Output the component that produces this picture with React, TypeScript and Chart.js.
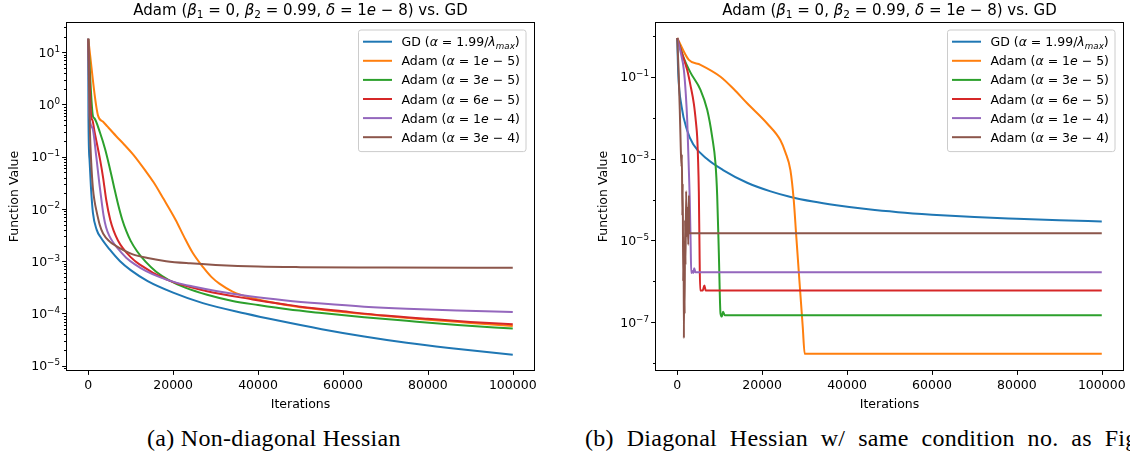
import React, { useEffect, useRef } from "react";
import { Chart, registerables } from "chart.js";
Chart.register(...registerables);

const FONT = '"DejaVu Sans"';
const COLORS = ["#1f77b4", "#ff7f0e", "#2ca02c", "#d62728", "#9467bd", "#8c564b"];
const gdRate = ["1.99/", "λ", "max"];
const adamRates = [["1", "5"], ["3", "5"], ["6", "5"], ["1", "4"], ["3", "4"]];
const xTickValues = [0, 20000, 40000, 60000, 80000, 100000];
const titleText = "Adam (β1 = 0, β2 = 0.99, δ = 1e − 8) vs. GD";
const captionA = "(a) Non-diagonal Hessian";
const captionB = "(b) Diagonal Hessian w/ same condition no. as Fig";

// ---------- Panel (a): non-diagonal Hessian ----------
const aGdX = [0, 50, 310, 630, 1100, 2000, 3000, 5000, 7500, 10000, 14000, 20000, 27000, 37000, 45000, 55000, 65000, 75000, 85000, 100000];
const aGdY = [18.1, 0.6, 0.087, 0.027, 8.5e-3, 3.98e-3, 2.82e-3, 1.7e-3, 1.0e-3, 6.76e-4, 4.17e-4, 2.51e-4, 1.58e-4, 1.0e-4, 7.24e-5, 5.01e-5, 3.63e-5, 2.75e-5, 2.19e-5, 1.62e-5];

const aAdam1X = [0, 2300, 3500, 4500, 6600, 8500, 10600, 13500, 15400, 17700, 20600, 22500, 24600, 27100, 29000, 30900, 34000, 38700, 46600, 50000, 60000, 70000, 80000, 90000, 100000];
const aAdam1Y = [18.1, 0.617, 0.468, 0.38, 0.247, 0.17, 0.11, 0.0537, 0.0324, 0.0158, 6.17e-3, 3.02e-3, 1.45e-3, 7.59e-4, 5.01e-4, 3.72e-4, 2.63e-4, 1.95e-4, 1.45e-4, 1.32e-4, 1.07e-4, 8.9e-5, 7.6e-5, 6.6e-5, 5.75e-5];

const aAdam2X = [0, 1100, 1400, 2820, 4000, 5000, 6000, 7000, 8000, 9000, 10000, 11500, 13500, 16000, 19000, 23000, 28000, 34000, 40000, 47000, 55000, 65000, 75000, 87000, 100000];
const aAdam2Y = [18.1, 0.6, 0.55, 0.282, 0.138, 0.0646, 0.0282, 0.0126, 6.3e-3, 3.72e-3, 2.45e-3, 1.55e-3, 9.8e-4, 6.3e-4, 4.37e-4, 3.09e-4, 2.29e-4, 1.74e-4, 1.45e-4, 1.2e-4, 1.02e-4, 8.5e-5, 7.24e-5, 6.03e-5, 5.13e-5];

const aAdam3X = [0, 700, 1000, 1500, 2800, 3500, 4235, 5180, 6000, 7000, 8150, 10000, 12070, 18350, 27750, 38730, 46570, 50000, 60000, 70000, 80000, 90000, 100000];
const aAdam3Y = [18.1, 0.6, 0.5, 0.3, 0.087, 0.04, 0.015, 6.2e-3, 3.8e-3, 2.5e-3, 1.78e-3, 1.2e-3, 8.7e-4, 4.5e-4, 2.7e-4, 1.86e-4, 1.48e-4, 1.35e-4, 1.1e-4, 9.1e-5, 7.9e-5, 6.9e-5, 6.2e-5];

const aAdam4X = [0, 300, 1000, 1900, 2600, 3220, 3600, 4200, 5000, 5800, 7000, 8940, 11000, 13640, 17000, 20700, 25000, 30100, 38000, 46570, 55000, 65000, 75000, 87000, 100000];
const aAdam4Y = [18.1, 0.6, 0.355, 0.1, 0.0316, 0.0126, 7.6e-3, 4.47e-3, 3.02e-3, 2.34e-3, 1.74e-3, 1.17e-3, 8.7e-4, 6.46e-4, 4.9e-4, 3.89e-4, 3.24e-4, 2.69e-4, 2.14e-4, 1.78e-4, 1.55e-4, 1.35e-4, 1.23e-4, 1.14e-4, 1.07e-4];

const aAdam5X = [0, 400, 700, 1100, 1500, 1900, 2700, 3500, 5000, 6600, 8500, 10500, 14000, 18350, 24000, 30000, 40000, 50000, 70000, 100000];
const aAdam5Y = [18.1, 0.32, 0.079, 0.025, 0.014, 9.5e-3, 5.0e-3, 3.4e-3, 2.4e-3, 1.95e-3, 1.6e-3, 1.35e-3, 1.15e-3, 1.0e-3, 9.1e-4, 8.5e-4, 7.9e-4, 7.7e-4, 7.6e-4, 7.5e-4];

// ---------- Panel (b): diagonal Hessian ----------
const bGdX = [0, 235, 1010, 2300, 3760, 6900, 10800, 16470, 22000, 26500, 32000, 37480, 45000, 52000, 60000, 70000, 80000, 90000, 100000];
const bGdY = [0.88, 0.123, 0.019, 5.0e-3, 2.24e-3, 1.0e-3, 5.25e-4, 2.57e-4, 1.58e-4, 1.17e-4, 8.9e-5, 7.24e-5, 5.75e-5, 4.9e-5, 4.27e-5, 3.72e-5, 3.39e-5, 3.13e-5, 2.92e-5];

const bAdam1X = [0, 2740, 5480, 10190, 13300, 16470, 21180, 24310, 25500, 26660, 27450, 28000, 28770, 29560, 30030, 100000];
const bAdam1Y = [0.88, 0.257, 0.195, 0.1, 0.05, 0.0224, 7.2e-3, 2.8e-3, 1.4e-3, 5.2e-4, 9.5e-5, 1.45e-5, 1.07e-6, 7.9e-8, 1.7e-8, 1.7e-8];

const bAdam2X = [0, 1570, 3130, 5480, 7060, 8230, 9010, 9410, 9800, 10190, 10500, 10800, 11200, 100000];
const bAdam2Y = [0.88, 0.282, 0.126, 0.0479, 0.0155, 3.39e-3, 7.6e-4, 1.26e-4, 5.0e-6, 1.66e-7, 1.38e-7, 1.82e-7, 1.48e-7, 1.48e-7];

const bAdam3X = [0, 1000, 2350, 3100, 3910, 4400, 4700, 4900, 5090, 5250, 5400, 6000, 6400, 6700, 100000];
const bAdam3Y = [0.88, 0.4, 0.145, 0.063, 0.022, 7.9e-3, 3.4e-3, 1.0e-3, 1.58e-4, 6.3e-6, 6.0e-7, 6.0e-7, 7.9e-7, 6.0e-7, 6.0e-7];

const bAdam4X = [0, 800, 1570, 2000, 2350, 2740, 2950, 3150, 3300, 3600, 3800, 4000, 4300, 100000];
const bAdam4Y = [0.88, 0.4, 0.145, 0.04, 8.7e-3, 5.2e-4, 1.0e-4, 1.0e-5, 1.6e-6, 1.8e-6, 1.6e-6, 2.1e-6, 1.66e-6, 1.66e-6];

const bAdam5X = [0, 300, 600, 800, 1000, 1100, 1200, 1300, 1400, 1500, 1570, 1650, 1750, 1850, 1950, 2100, 2250, 2400, 2600, 2740, 2850, 100000];
const bAdam5Y = [0.88, 0.16, 0.016, 2.5e-3, 6.3e-4, 1.26e-3, 4.0e-5, 2.5e-4, 1.0e-6, 1.0e-5, 4.1e-8, 3.2e-6, 1.6e-7, 3.2e-5, 2.5e-6, 1.6e-4, 1.26e-5, 6.3e-5, 7.9e-6, 1.26e-4, 1.5e-5, 1.5e-5];

// ---------- rich text helpers ----------
type Seg = [string, number]; // 0 normal, 1 italic, 2 sub, 3 italic sub, 4 sup
function segFont(k: number, size: number) {
  const s = k >= 2 ? size * 0.7 : size;
  const it = k === 1 || k === 3 ? "italic " : "";
  return `${it}${s}px ${FONT}`;
}
function segDy(k: number, size: number) {
  if (k === 2 || k === 3) return size * 0.2;
  if (k === 4) return -size * 0.42;
  return 0;
}
function richWidth(ctx: CanvasRenderingContext2D, segs: Seg[], size: number) {
  let w = 0;
  for (const [t, k] of segs) {
    ctx.font = segFont(k, size);
    w += ctx.measureText(t).width;
  }
  return w;
}
function drawRich(ctx: CanvasRenderingContext2D, segs: Seg[], x: number, y: number, size: number, align: "left" | "center" | "right") {
  const w = richWidth(ctx, segs, size);
  let cx = align === "left" ? x : align === "center" ? x - w / 2 : x - w;
  ctx.textAlign = "left";
  ctx.textBaseline = "alphabetic";
  for (const [t, k] of segs) {
    ctx.font = segFont(k, size);
    ctx.fillText(t, cx, y + segDy(k, size));
    cx += ctx.measureText(t).width;
  }
}

const titleSegs: Seg[] = [["Adam (", 0], ["β", 1], ["1", 2], [" = 0, ", 0], ["β", 1], ["2", 2], [" = 0.99, ", 0], ["δ", 1], [" = 1", 0], ["e", 1], [" − 8", 0], [") vs. GD", 0]];
const legendSegs: Seg[][] = [
  [["GD (", 0], ["α", 1], [" = " + gdRate[0], 0], [gdRate[1], 1], [gdRate[2], 3], [")", 0]],
  ...adamRates.map(([m, e]) => [["Adam (", 0], ["α", 1], [" = " + m, 0], ["e", 1], [" − " + e, 0], [")", 0]] as Seg[]),
];
const legendPlain = [
  "GD (α = 1.99/λmax)",
  ...adamRates.map(([m, e]) => `Adam (α = ${m}e − ${e})`),
];

interface PanelDef {
  xs: number[][];
  ys: number[][];
  yMin: number;
  yMax: number;
  labelExps: number[];
  minorDecades: number[];
  minorSubs: boolean;
  yAxisW: number;
  padRight: number;
  width: number;
}

const panelA: PanelDef = {
  xs: [aGdX, aAdam1X, aAdam2X, aAdam3X, aAdam4X, aAdam5X],
  ys: [aGdY, aAdam1Y, aAdam2Y, aAdam3Y, aAdam4Y, aAdam5Y],
  yMin: 8.28e-6,
  yMax: 36.3,
  labelExps: [1, 0, -1, -2, -3, -4, -5],
  minorDecades: [],
  minorSubs: true,
  yAxisW: 67,
  padRight: 26,
  width: 560,
};
const panelB: PanelDef = {
  xs: [bGdX, bAdam1X, bAdam2X, bAdam3X, bAdam4X, bAdam5X],
  ys: [bGdY, bAdam1Y, bAdam2Y, bAdam3Y, bAdam4Y, bAdam5Y],
  yMin: 6.84e-9,
  yMax: 2.05,
  labelExps: [-1, -3, -5, -7],
  minorDecades: [0, -2, -4, -6, -8],
  minorSubs: false,
  yAxisW: 91,
  padRight: 12,
  width: 570,
};

function decoPlugin(p: PanelDef) {
  return {
    id: "deco",
    afterDraw(chart: any) {
      const ctx: CanvasRenderingContext2D = chart.ctx;
      const a = chart.chartArea;
      const xs = chart.scales.x;
      const ys = chart.scales.y;
      ctx.save();
      ctx.fillStyle = "#000";
      ctx.strokeStyle = "#000";
      ctx.lineWidth = 1;
      // spines
      const L = Math.round(a.left) - 0.5, R = Math.round(a.right) + 0.5;
      const T = Math.round(a.top) - 0.5, B = Math.round(a.bottom) + 0.5;
      ctx.strokeRect(L, T, R - L, B - T);
      // x ticks
      ctx.beginPath();
      for (const v of xTickValues) {
        const px = Math.round(xs.getPixelForValue(v)) + 0.5;
        ctx.moveTo(px, B);
        ctx.lineTo(px, B + 4.4);
      }
      // y ticks
      const lo = Math.floor(Math.log10(p.yMin)), hi = Math.ceil(Math.log10(p.yMax));
      for (let e = lo; e <= hi; e++) {
        const dec = Math.pow(10, e);
        if (p.labelExps.includes(e)) {
          const py = Math.round(ys.getPixelForValue(dec)) + 0.5;
          ctx.moveTo(L, py);
          ctx.lineTo(L - 4.4, py);
        } else if (p.minorDecades.includes(e) && dec >= p.yMin && dec <= p.yMax) {
          const py = Math.round(ys.getPixelForValue(dec)) + 0.5;
          ctx.moveTo(L, py);
          ctx.lineTo(L - 2.5, py);
        }
        if (p.minorSubs) {
          for (let s = 2; s <= 9; s++) {
            const v = s * dec;
            if (v < p.yMin || v > p.yMax) continue;
            const py = Math.round(ys.getPixelForValue(v)) + 0.5;
            ctx.moveTo(L, py);
            ctx.lineTo(L - 2.5, py);
          }
        }
      }
      ctx.stroke();
      // y tick labels
      for (const e of p.labelExps) {
        const py = ys.getPixelForValue(Math.pow(10, e));
        const segs: Seg[] = [["10", 0], [e < 0 ? "−" + -e : String(e), 4]];
        drawRich(ctx, segs, a.left - 7, py + 4.6, 12.5, "right");
      }
      // axis titles
      const cxm = (a.left + a.right) / 2;
      ctx.font = `12.5px ${FONT}`;
      ctx.textAlign = "center";
      ctx.textBaseline = "alphabetic";
      ctx.fillText("Iterations", cxm, 408);
      ctx.save();
      ctx.translate(a.left - 52, (a.top + a.bottom) / 2);
      ctx.rotate(-Math.PI / 2);
      ctx.textBaseline = "middle";
      ctx.fillText("Function Value", 0, 0);
      ctx.restore();
      // title
      drawRich(ctx, titleSegs, cxm, 15, 15, "center");
      // legend
      const fs = 12.5;
      const widths = legendSegs.map((s) => richWidth(ctx, s, fs));
      const boxW = 43 + Math.max(...widths) + 6;
      const rowH = 19.1;
      const boxR = a.right - 8, boxL = boxR - boxW, boxT = a.top + 7;
      const boxH = 11.7 + 5 * rowH + 14.4;
      ctx.beginPath();
      const r = 2.5;
      ctx.moveTo(boxL + r, boxT);
      ctx.lineTo(boxR - r, boxT);
      ctx.quadraticCurveTo(boxR, boxT, boxR, boxT + r);
      ctx.lineTo(boxR, boxT + boxH - r);
      ctx.quadraticCurveTo(boxR, boxT + boxH, boxR - r, boxT + boxH);
      ctx.lineTo(boxL + r, boxT + boxH);
      ctx.quadraticCurveTo(boxL, boxT + boxH, boxL, boxT + boxH - r);
      ctx.lineTo(boxL, boxT + r);
      ctx.quadraticCurveTo(boxL, boxT, boxL + r, boxT);
      ctx.closePath();
      ctx.fillStyle = "rgba(255,255,255,0.8)";
      ctx.fill();
      ctx.strokeStyle = "#cccccc";
      ctx.lineWidth = 1;
      ctx.stroke();
      legendSegs.forEach((segs, i) => {
        const cy = boxT + 11.7 + i * rowH;
        ctx.strokeStyle = COLORS[i];
        ctx.lineWidth = 2;
        ctx.beginPath();
        ctx.moveTo(boxL + 4.5, cy);
        ctx.lineTo(boxL + 33.5, cy);
        ctx.stroke();
        ctx.fillStyle = "#000";
        drawRich(ctx, segs, boxL + 43, cy + 4.5, fs, "left");
      });
      ctx.restore();
    },
  };
}

function PanelChart({ p, left }: { p: PanelDef; left: number }) {
  const ref = useRef<HTMLCanvasElement | null>(null);
  useEffect(() => {
    if (!ref.current) return;
    const datasets = p.xs.map((xArr, i) => ({
      label: legendPlain[i],
      data: xArr.map((x, j) => ({ x, y: p.ys[i][j] })),
      borderColor: COLORS[i],
      backgroundColor: COLORS[i],
      borderWidth: 2,
      pointRadius: 0,
      fill: false,
      cubicInterpolationMode: "monotone" as const,
      order: p.xs.length - i,
    }));
    const chart = new Chart(ref.current, {
      type: "line",
      data: { datasets },
      options: {
        responsive: false,
        animation: false,
        events: [],
        layout: { padding: { left: 0, right: p.padRight, top: 23, bottom: 0 } },
        plugins: { legend: { display: false }, title: { display: false }, tooltip: { enabled: false } },
        scales: {
          x: {
            type: "linear",
            min: -5000,
            max: 105000,
            afterBuildTicks: (s: any) => {
              s.ticks = xTickValues.map((v) => ({ value: v }));
            },
            afterFit: (s: any) => {
              s.height = 50;
            },
            ticks: {
              callback: (v: any) => String(v),
              font: { family: "DejaVu Sans", size: 12.5 },
              color: "#000",
              padding: 8,
              maxRotation: 0,
              autoSkip: false,
            },
            grid: { display: false, drawTicks: false },
            border: { display: false },
          },
          y: {
            type: "logarithmic",
            min: p.yMin,
            max: p.yMax,
            afterFit: (s: any) => {
              s.width = p.yAxisW;
            },
            ticks: { display: false },
            grid: { display: false, drawTicks: false },
            border: { display: false },
          },
        },
      } as any,
      plugins: [decoPlugin(p)],
    });
    return () => chart.destroy();
  }, [p]);
  return (
    <canvas
      ref={ref}
      width={p.width}
      height={420}
      style={{ position: "absolute", left, top: 0, width: p.width, height: 420 }}
    />
  );
}

export default function App() {
  const capStyle: React.CSSProperties = {
    position: "absolute",
    top: 425,
    fontFamily: '"Liberation Serif", serif',
    fontSize: 24,
    letterSpacing: 0.3,
    whiteSpace: "nowrap",
    color: "#000",
  };
  return (
    <div style={{ position: "fixed", left: 0, top: 0, width: 1130, height: 462, background: "#fff", overflow: "hidden" }}>
      <PanelChart p={panelA} left={0} />
      <PanelChart p={panelB} left={565} />
      <div style={{ ...capStyle, left: 147 }}>{captionA}</div>
      <div style={{ ...capStyle, left: 585, wordSpacing: 6.5 }}>{captionB}</div>
      <span style={{ display: "none" }}>{titleText}</span>
    </div>
  );
}
